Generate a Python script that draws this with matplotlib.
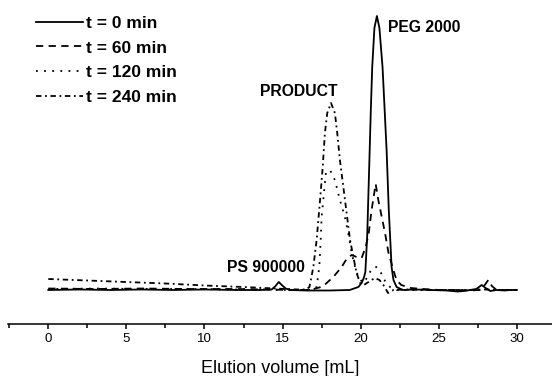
import matplotlib
matplotlib.use("Agg")
import matplotlib.pyplot as plt
from matplotlib.ticker import MultipleLocator

plt.rcParams['font.family'] = ['Liberation Sans', 'DejaVu Sans']

# elution volume [mL] and detector signal (arbitrary units, baseline = 0)
t0_x = [0, 2, 4, 6, 8, 10, 12, 13.5, 14.3, 14.55, 14.75, 14.95, 15.2, 15.5, 16.5, 18, 19.3, 19.85,
        20.06, 20.2, 20.3, 20.42, 20.55, 20.65, 20.74, 20.88, 21.04, 21.2, 21.4, 21.52, 21.66, 21.8,
        21.98, 22.1, 22.3, 22.7, 23.5, 24.5, 25.5, 26.2, 26.6, 27.0, 27.4, 27.75, 28.0, 28.3, 28.7,
        29.2, 29.6, 30]
t0_y = [0, 0.5, 0, 0.5, 0, 0.5, 0, 0, 0.5, 4, 8, 5, 1.5, 0, -0.5, -0.5, 0, 3,
        7, 12, 18, 55, 125, 180, 223, 262, 274, 262, 223, 185, 140, 80,
        23, 10, 3, 0, 0.5, 0, -0.5, -1.5, -1, 0, 1, 5, 2, -1, 0,
        -0.5, 0, 0]

t60_x = [0, 3, 6, 9, 12, 14, 15.5, 16.5, 17.0, 17.57, 18.25, 18.78, 19.1, 19.42, 19.74, 20.06, 20.3,
         20.5, 20.7, 20.96, 21.13, 21.35, 21.56, 21.77, 22.09, 22.3, 22.6, 23.2, 24, 25, 26, 27, 27.6,
         27.9, 28.17, 28.4, 28.7, 29.2, 30]
t60_y = [1.5, 1, 1.5, 1, 1, 0.5, 0, 0, 1, 3.5, 13, 23, 31, 35, 33, 32, 42,
         55, 80, 106, 90, 73, 57, 38, 20, 10, 5, 2, 1, 0, 0, -0.5, 0,
         4, 10, 4, 0, 0, 0]

t120_x = [0, 3, 6, 9, 12, 14, 15.5, 16.5, 17.0, 17.18, 17.35, 17.44, 17.5, 17.65, 17.77, 18.04, 18.35,
          18.67, 18.99, 19.2, 19.42, 19.64, 19.85, 20.15, 20.4, 20.7, 21.0, 21.24, 21.56, 21.88, 22.3,
          23, 25, 27, 28, 29, 30]
t120_y = [1, 1.5, 1, 1, 0.5, 0.5, 0, 0, 0.5, 3, 23, 50, 73, 97, 117, 120, 110,
          90, 73, 57, 37, 23, 13, 7, 12, 21, 23, 19, 9, 3, 0,
          0, 0, 0, 1, 0, 0]

t240_x = [0, 2.5, 5, 7.5, 10, 12.5, 14.5, 16.0, 16.5, 16.72, 16.97, 17.18, 17.4, 17.57, 17.71, 17.86,
          18.1, 18.35, 18.5, 18.67, 18.89, 19.1, 19.32, 19.57, 19.74, 19.96, 20.2, 20.5, 20.9, 21.2,
          21.5, 21.75, 22.1, 23, 25, 27, 28, 29, 30]
t240_y = [11, 9.5, 8, 6.5, 4.5, 3, 1.5, 0.5, 0.5, 3, 23, 50, 90, 123, 157, 177,
          187, 177, 157, 130, 103, 77, 50, 30, 17, 7, 5, 8, 12, 10,
          4, -3, 0, 0.5, 0, 0, 0.5, 0, 0]

labels = ["t = 0 min", "t = 60 min", "t = 120 min", "t = 240 min"]

fig = plt.figure(figsize=(5.52, 3.76), dpi=100)
ax = fig.add_axes([8 / 552, 52 / 376, 544 / 552, 324 / 376])

lw = 1.3
ax.plot(t0_x, t0_y, color='black', lw=lw, linestyle='-', label=labels[0])
ax.plot(t60_x, t60_y, color='black', lw=lw, linestyle=(0, (4, 3)), label=labels[1])
ax.plot(t120_x, t120_y, color='black', lw=lw, linestyle=(0, (1, 3.5)), label=labels[2])
ax.plot(t240_x, t240_y, color='black', lw=lw, linestyle=(0, (3, 2, 1, 2)), label=labels[3])

# peak labels
ax.text(16.04, 199, "PRODUCT", fontsize=11.3, fontweight='bold', ha='center', va='center')
ax.text(21.73, 263, "PEG 2000", fontsize=11.3, fontweight='bold', ha='left', va='center')
ax.text(13.95, 22, "PS 900000", fontsize=11.3, fontweight='bold', ha='center', va='center')

ax.set_xlim(-2.58, 32.25)
ax.set_ylim(-34, 290)

for side in ['left', 'right', 'top']:
    ax.spines[side].set_visible(False)
ax.spines['bottom'].set_linewidth(1.1)
ax.set_yticks([])
ax.xaxis.set_major_locator(MultipleLocator(5))
ax.xaxis.set_minor_locator(MultipleLocator(2.5))
ax.tick_params(axis='x', which='major', length=3.5, width=1.1, labelsize=9.5, pad=3)
ax.tick_params(axis='x', which='minor', length=3.2, width=1.1)
ax.set_xlabel("Elution volume [mL]", fontsize=13, labelpad=11)

leg = ax.legend(loc='upper left', bbox_to_anchor=(27 / 552, 1 - 7 / 376),
                bbox_transform=fig.transFigure, frameon=False, borderpad=0,
                handlelength=2.7, handletextpad=0.2, labelspacing=0.55,
                prop={'size': 12.5, 'weight': 'bold'})

fig.savefig("out.png", dpi=100)
